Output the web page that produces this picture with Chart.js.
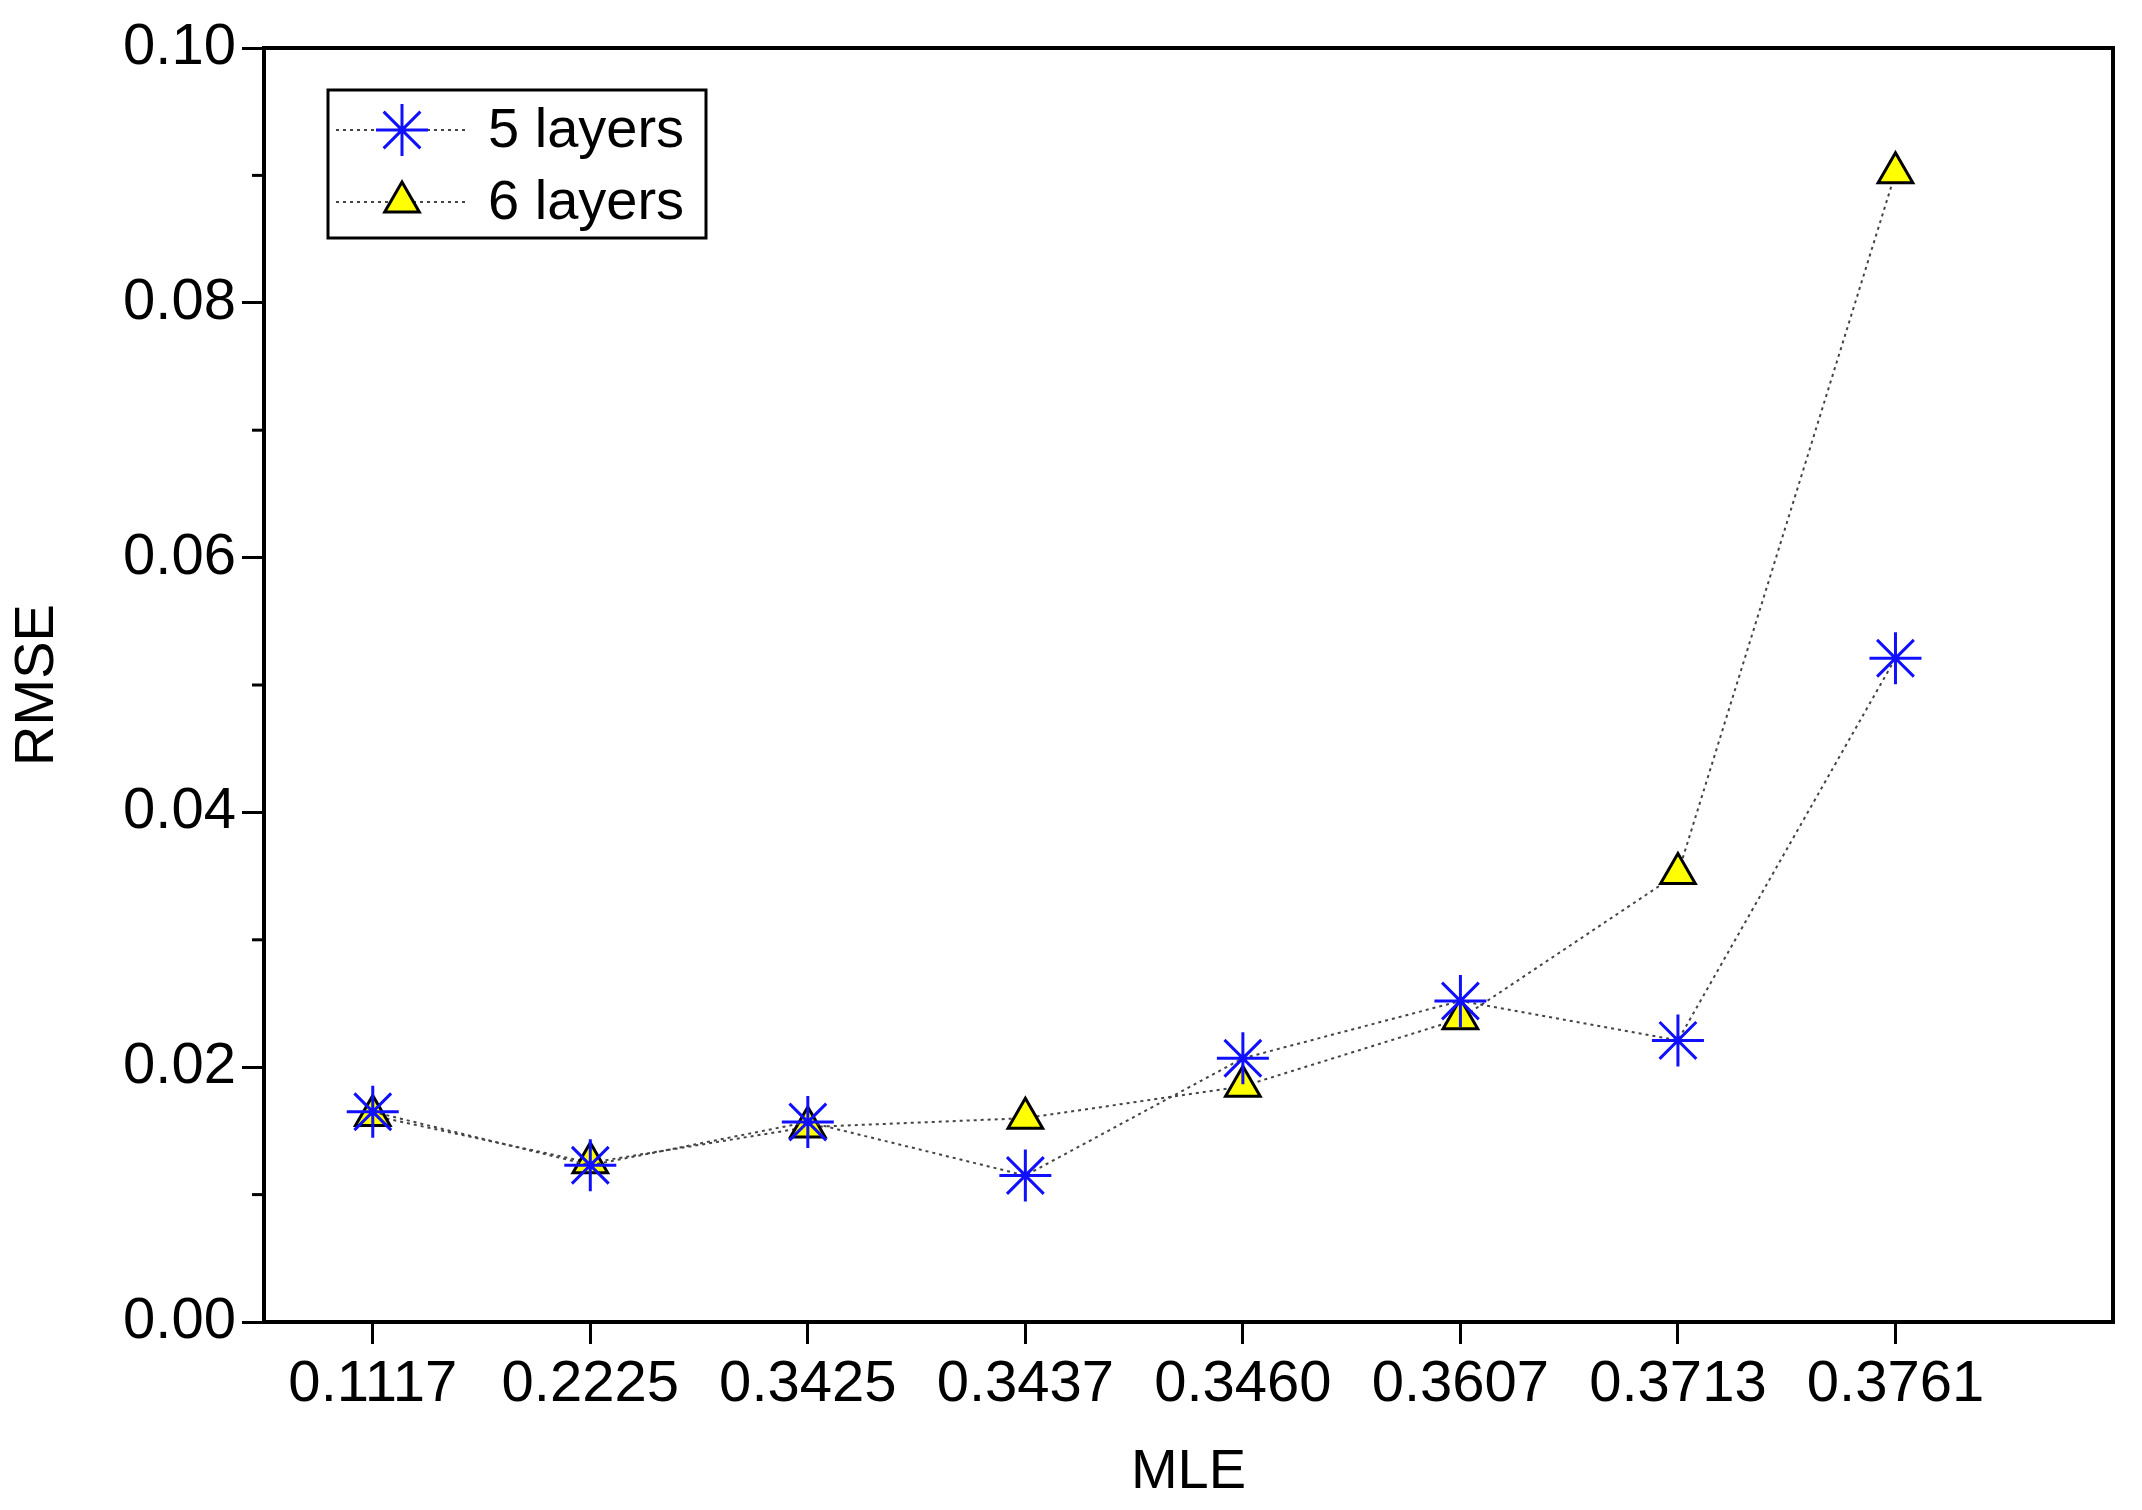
<!DOCTYPE html>
<html>
<head>
<meta charset="utf-8">
<script src="https://cdn.jsdelivr.net/npm/chart.js@4/dist/chart.umd.min.js"></script>
<style>
body { margin: 0; background: #fff; }
#wrap { width: 2142px; height: 1510px; }
</style>
</head>
<body>
<div id="wrap"><canvas id="c" width="2142" height="1510"></canvas></div>
<script>
var mleLabels = ['0.1117', '0.2225', '0.3425', '0.3437', '0.3460', '0.3607', '0.3713', '0.3761'];
var rmse5 = [0.0165, 0.0123, 0.0157, 0.0115, 0.0207, 0.0252, 0.0221, 0.0521];
var rmse6 = [0.0162, 0.0125, 0.0153, 0.0160, 0.0185, 0.0238, 0.0352, 0.0902];
var seriesNames = ['5 layers', '6 layers'];

var font = 'Liberation Sans, Arial, sans-serif';

function toPoints(arr) {
    return arr.map(function(v, i) { return { x: i, y: v }; });
}

// frame, minor ticks, legend box inside the plot
var framePlugin = {
    id: 'frame',
    afterDraw: function(chart) {
        var ctx = chart.ctx;
        var a = chart.chartArea;
        var y = chart.scales.y;
        ctx.save();
        ctx.strokeStyle = '#000';
        ctx.lineWidth = 4;
        ctx.strokeRect(a.left, a.top, a.right - a.left, a.bottom - a.top);
        ctx.lineWidth = 3;
        for (var v = 0.01; v < 0.1; v += 0.02) {
            var py = y.getPixelForValue(v);
            ctx.beginPath();
            ctx.moveTo(a.left - 12, py);
            ctx.lineTo(a.left, py);
            ctx.stroke();
        }
        // legend
        var lx = 328, ly = 90, lw = 378, lh = 148;
        ctx.lineWidth = 3;
        ctx.strokeRect(lx, ly, lw, lh);
        ctx.font = '56px ' + font;
        ctx.textBaseline = 'middle';
        for (var i = 0; i < 2; i++) {
            var ds = chart.data.datasets[i];
            var cy = ly + 40 + i * 72;
            ctx.strokeStyle = '#444';
            ctx.lineWidth = 2;
            ctx.setLineDash([3, 4]);
            ctx.beginPath();
            ctx.moveTo(lx + 8, cy);
            ctx.lineTo(lx + 140, cy);
            ctx.stroke();
            ctx.setLineDash([]);
            ctx.save();
            ctx.fillStyle = ds.pointBackgroundColor;
            ctx.strokeStyle = ds.pointBorderColor;
            ctx.lineWidth = ds.pointBorderWidth;
            Chart.helpers.drawPoint(ctx, {
                pointStyle: ds.pointStyle,
                radius: ds.pointRadius,
                borderWidth: ds.pointBorderWidth,
                rotation: 0
            }, lx + 74, cy);
            ctx.restore();
            ctx.fillStyle = '#000';
            ctx.fillText(seriesNames[i], lx + 160, cy + 2);
        }
        ctx.restore();
    }
};

var ctx = document.getElementById('c');
var chart = new Chart(ctx, {
    type: 'line',
    data: {
        datasets: [
            {
                label: seriesNames[0],
                data: toPoints(rmse5),
                borderColor: '#444',
                borderWidth: 2,
                borderDash: [3, 4],
                pointStyle: 'star',
                pointRadius: 26,
                pointBorderWidth: 3,
                pointBorderColor: '#1010ff',
                pointBackgroundColor: '#1010ff',
                fill: false
            },
            {
                label: seriesNames[1],
                data: toPoints(rmse6),
                borderColor: '#444',
                borderWidth: 2,
                borderDash: [3, 4],
                pointStyle: 'triangle',
                pointRadius: 20,
                pointBorderWidth: 3,
                pointBorderColor: '#000',
                pointBackgroundColor: '#ffff00',
                fill: false
            }
        ]
    },
    options: {
        responsive: false,
        animation: false,
        devicePixelRatio: 1,
        layout: { padding: { top: 48, right: 16, left: 0, bottom: 0 } },
        plugins: { legend: { display: false }, tooltip: { enabled: false } },
        scales: {
            x: {
                type: 'linear',
                min: -0.5,
                max: 8,
                afterBuildTicks: function(s) {
                    s.ticks = mleLabels.map(function(l, i) { return { value: i }; });
                },
                grid: { drawOnChartArea: false, color: '#000', tickLength: 22, tickWidth: 3 },
                border: { display: false },
                ticks: {
                    color: '#000', font: { size: 58, family: font }, padding: 6, maxRotation: 0, autoSkip: false,
                    callback: function(v) { return mleLabels[v]; }
                },
                title: { display: true, text: 'MLE', color: '#000', font: { size: 56, family: font }, padding: { top: 10 } },
                afterFit: function(s) { s.height = 188; }
            },
            y: {
                min: 0,
                max: 0.1,
                grid: { drawOnChartArea: false, color: '#000', tickLength: 22, tickWidth: 3 },
                border: { display: false },
                ticks: {
                    stepSize: 0.02,
                    color: '#000',
                    font: { size: 58, family: font },
                    padding: 6,
                    callback: function(v) { return v.toFixed(2); }
                },
                title: { display: true, text: 'RMSE', color: '#000', font: { size: 56, family: font }, padding: { bottom: 10 } },
                afterFit: function(s) { s.width = 264; }
            }
        }
    },
    plugins: [framePlugin]
});
</script>
</body>
</html>
